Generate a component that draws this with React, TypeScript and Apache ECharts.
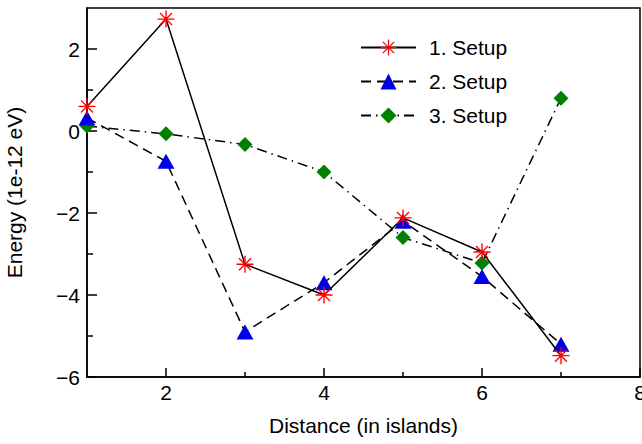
import React, { useEffect, useRef } from "react";
import * as echarts from "echarts";

const xValues = [1, 2, 3, 4, 5, 6, 7];
const setup1 = [0.6, 2.73, -3.25, -4.0, -2.12, -2.95, -5.48];
const setup2 = [0.32, -0.74, -4.9, -3.7, -2.2, -3.55, -5.2];
const setup3 = [0.12, -0.07, -0.33, -1.0, -2.6, -3.22, 0.8];
const seriesNames = ["1. Setup", "2. Setup", "3. Setup"];
const xMajorTicks = [2, 4, 6, 8];
const xMinorTicks = [3, 5, 7];
const yMajorTicks = [-6, -4, -2, 0, 2];
const yMinorTicks = [-5, -3, -1, 1];

const ASTERISK =
  "path://M46 0L54 0L54 100L46 100Z M0 46L100 46L100 54L0 54Z M17.4 11.8L88.2 82.6L82.6 88.2L11.8 17.4Z M88.2 17.4L17.4 88.2L11.8 82.6L82.6 11.8Z";

const FONT = "'Liberation Sans', Arial, Helvetica, sans-serif";

export default function App() {
  const ref = useRef<HTMLDivElement>(null);
  useEffect(() => {
    if (!ref.current) return;
    const chart = echarts.init(ref.current, null, { renderer: "svg" });
    const pairs = (ys: number[]) => xValues.map((x, i) => [x, ys[i]]);
    const baseX = {
      type: "value" as const,
      min: 1,
      max: 8,
      gridIndex: 0,
      position: "bottom" as const,
      splitLine: { show: false },
    };
    const baseY = {
      type: "value" as const,
      min: -6,
      max: 3,
      gridIndex: 0,
      position: "left" as const,
      splitLine: { show: false },
    };
    chart.setOption({
      animation: false,
      backgroundColor: "#ffffff",
      textStyle: { fontFamily: FONT },
      grid: {
        left: 87,
        right: 2,
        top: 8,
        bottom: 67,
        show: true,
        borderColor: "#000",
        borderWidth: 1.5,
        containLabel: false,
        outerBoundsMode: "none",
      },
      legend: {
        orient: "vertical",
        left: 355,
        top: 32,
        itemWidth: 55,
        itemHeight: 20,
        itemGap: 13,
        data: seriesNames,
        textStyle: {
          fontSize: 21,
          color: "#000",
          fontFamily: FONT,
          padding: [0, 0, 0, 8],
          lineHeight: 20,
        },
      },
      xAxis: [
        {
          ...baseX,
          name: "Distance (in islands)",
          nameLocation: "middle",
          nameGap: 38,
          nameTextStyle: { fontSize: 21, color: "#000", fontFamily: FONT },
          axisLine: { show: true, onZero: false, lineStyle: { color: "#000", width: 1.5 } },
          axisTick: { show: true, inside: true, length: 9, customValues: xMajorTicks, lineStyle: { color: "#000", width: 1.5 } },
          axisLabel: { show: true, customValues: xMajorTicks, fontSize: 21, color: "#000", margin: 5, fontFamily: FONT },
        },
        {
          ...baseX,
          axisLine: { show: false, onZero: false },
          axisTick: { show: true, inside: true, length: 5, customValues: xMinorTicks, lineStyle: { color: "#000", width: 1.5 } },
          axisLabel: { show: false },
        },
      ],
      yAxis: [
        {
          ...baseY,
          name: "Energy (1e-12 eV)",
          nameLocation: "middle",
          nameGap: 62,
          nameTextStyle: { fontSize: 21, color: "#000", fontFamily: FONT },
          axisLine: { show: true, onZero: false, lineStyle: { color: "#000", width: 1.5 } },
          axisTick: { show: true, inside: true, length: 10, customValues: yMajorTicks, lineStyle: { color: "#000", width: 1.5 } },
          axisLabel: {
            show: true,
            customValues: yMajorTicks,
            fontSize: 21,
            color: "#000",
            margin: 7,
            fontFamily: FONT,
            formatter: (v: number) => (v < 0 ? "\u2212" + Math.abs(v) : String(v)),
          },
        },
        {
          ...baseY,
          axisLine: { show: false, onZero: false },
          axisTick: { show: true, inside: true, length: 6, customValues: yMinorTicks, lineStyle: { color: "#000", width: 1.5 } },
          axisLabel: { show: false },
        },
      ],
      series: [
        {
          name: seriesNames[0],
          type: "line",
          data: pairs(setup1),
          xAxisIndex: 0,
          yAxisIndex: 0,
          symbol: ASTERISK,
          symbolSize: 17,
          itemStyle: { color: "#ff0000" },
          lineStyle: { color: "#000", width: 1.5, type: "solid" },
          z: 5,
        },
        {
          name: seriesNames[1],
          type: "line",
          data: pairs(setup2),
          xAxisIndex: 0,
          yAxisIndex: 0,
          symbol: "triangle",
          symbolSize: [17, 15],
          itemStyle: { color: "#0000e6" },
          lineStyle: { color: "#000", width: 1.5, type: [10, 6] },
          z: 4,
        },
        {
          name: seriesNames[2],
          type: "line",
          data: pairs(setup3),
          xAxisIndex: 0,
          yAxisIndex: 0,
          symbol: "diamond",
          symbolSize: [15, 15],
          itemStyle: { color: "#008000" },
          lineStyle: { color: "#000", width: 1.5, type: [10, 5, 1.5, 5] },
          z: 3,
        },
      ],
    });
    return () => chart.dispose();
  }, []);
  return <div ref={ref} style={{ width: 642, height: 444, position: "absolute", left: 0, top: 0 }} />;
}
